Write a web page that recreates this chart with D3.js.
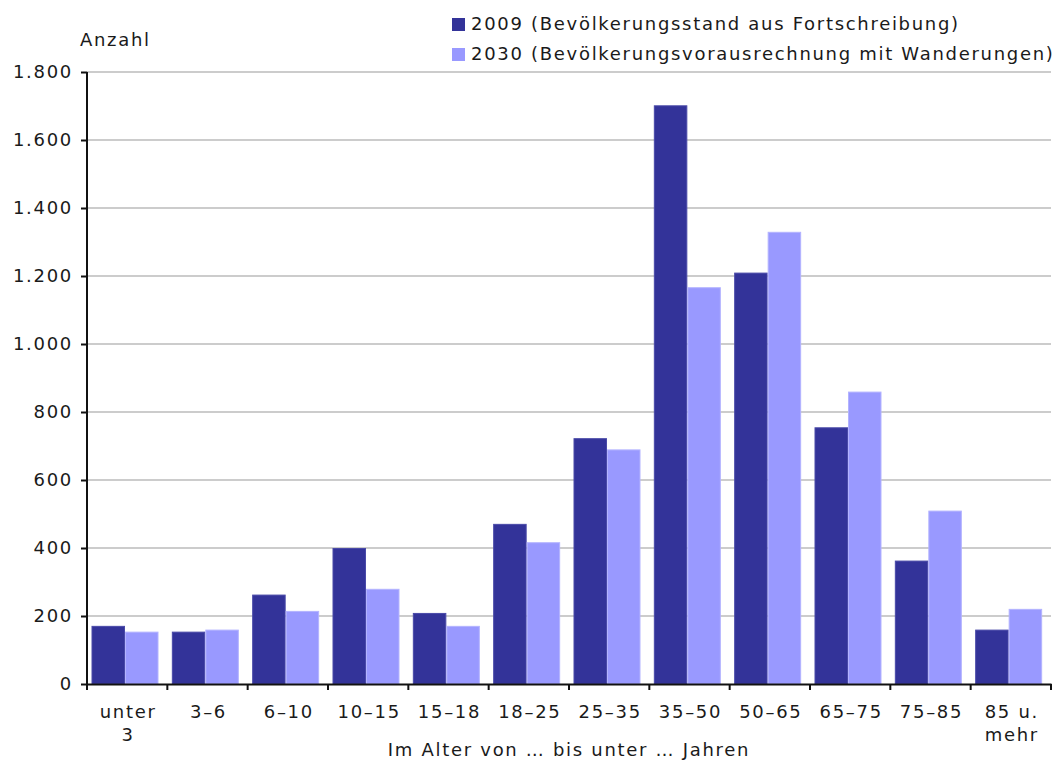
<!DOCTYPE html>
<html>
<head>
<meta charset="utf-8">
<script src="https://cdn.jsdelivr.net/npm/d3@7"></script>
<style>
  body { margin: 0; background: #fff; }
  text { font-family: "DejaVu Sans", Verdana, sans-serif; fill: #1a1a1a; font-size: 18px; letter-spacing: 1.7px; }
</style>
</head>
<body>
<div id="chart"></div>
<script>
const svgWidth = 1062;
const svgHeight = 760;

const margin = { top: 72, right: 11, bottom: 76, left: 87 };
const width = svgWidth - margin.left - margin.right;
const height = svgHeight - margin.top - margin.bottom;

// data
const ageGroups = ["unter 3", "3–6", "6–10", "10–15", "15–18", "18–25", "25–35", "35–50", "50–65", "65–75", "75–85", "85 u. mehr"];
const ageLabels = [["unter", "3"], ["3–6"], ["6–10"], ["10–15"], ["15–18"], ["18–25"], ["25–35"], ["35–50"], ["50–65"], ["65–75"], ["75–85"], ["85 u.", "mehr"]];
const values2009 = [171, 154, 263, 400, 209, 471, 723, 1702, 1210, 755, 363, 160];
const values2030 = [154, 160, 215, 280, 171, 417, 690, 1167, 1330, 860, 510, 221];
const seriesNames = ["2009 (Bevölkerungsstand aus Fortschreibung)", "2030 (Bevölkerungsvorausrechnung mit Wanderungen)"];
const yTicks = [0, 200, 400, 600, 800, 1000, 1200, 1400, 1600, 1800];

const colors = ["#333399", "#9999ff"];
const strokes = ["#4a4aa8", "#b3b3ff"];

const de = d3.formatLocale({ decimal: ",", thousands: ".", grouping: [3], currency: ["", " €"] });
const fmt = de.format(",d");

const svg = d3.select("#chart")
  .append("svg")
  .attr("width", svgWidth)
  .attr("height", svgHeight);

const chartGroup = svg.append("g")
  .attr("transform", `translate(${margin.left}, ${margin.top})`);

// scales
const x0 = d3.scaleBand()
  .domain(ageGroups)
  .range([0, width]);

const x1 = d3.scaleBand()
  .domain([0, 1])
  .range([4.5, 71.5]);

const y = d3.scaleLinear()
  .domain([0, 1800])
  .range([height, 0]);

// gridlines
chartGroup.append("g")
  .selectAll("line")
  .data(yTicks.filter(d => d > 0))
  .join("line")
  .attr("x1", 0)
  .attr("x2", width)
  .attr("y1", d => y(d))
  .attr("y2", d => y(d))
  .attr("stroke", "#cccccc")
  .attr("stroke-width", 2);

// bars
const rows = ageGroups.map((g, i) => ({ group: g, vals: [values2009[i], values2030[i]] }));

const groups = chartGroup.selectAll("g.grp")
  .data(rows)
  .join("g")
  .attr("class", "grp")
  .attr("transform", d => `translate(${x0(d.group)}, 0)`);

groups.selectAll("rect")
  .data(d => d.vals.map((v, k) => ({ v, k })))
  .join("rect")
  .attr("x", d => x1(d.k) + 0.5)
  .attr("width", x1.bandwidth() - 1)
  .attr("y", d => y(d.v) + 0.5)
  .attr("height", d => y(0) - y(d.v) - 0.5)
  .attr("fill", d => colors[d.k])
  .attr("stroke", d => strokes[d.k])
  .attr("stroke-width", 1);

// y axis
const leftAxis = d3.axisLeft(y)
  .tickValues(yTicks)
  .tickFormat(fmt)
  .tickSize(6)
  .tickPadding(8);

const yAxisG = chartGroup.append("g").call(leftAxis);
yAxisG.attr("font-size", null).attr("font-family", null);
yAxisG.select(".domain").attr("d", `M0,${height}V0`).attr("stroke", "#111").attr("stroke-width", 2);
yAxisG.selectAll(".tick line").attr("stroke", "#111").attr("stroke-width", 2);
yAxisG.selectAll(".tick text").attr("fill", "#1a1a1a");

// x axis
const bottomAxis = d3.axisBottom(x0)
  .tickValues([])
  .tickSizeOuter(0);

const xAxisG = chartGroup.append("g")
  .attr("transform", `translate(0, ${height})`)
  .call(bottomAxis);
xAxisG.attr("font-size", null).attr("font-family", null);
xAxisG.select(".domain").attr("stroke", "#111").attr("stroke-width", 2);

// tick marks at band boundaries
const bounds = ageGroups.map(g => x0(g)).concat([width]);
xAxisG.selectAll("line.bt")
  .data(bounds)
  .join("line")
  .attr("class", "bt")
  .attr("x1", d => d)
  .attr("x2", d => d)
  .attr("y1", 0)
  .attr("y2", 6)
  .attr("stroke", "#111")
  .attr("stroke-width", 2);

// category labels
const labelG = xAxisG.selectAll("text.cat")
  .data(ageGroups)
  .join("text")
  .attr("class", "cat")
  .attr("x", d => x0(d) + x0.bandwidth() / 2 + 1)
  .attr("y", 34)
  .attr("text-anchor", "middle");

labelG.selectAll("tspan")
  .data((d, i) => ageLabels[i])
  .join("tspan")
  .attr("x", function() { return d3.select(this.parentNode).attr("x"); })
  .attr("dy", (d, i) => i === 0 ? 0 : 23)
  .text(d => d);

// axis titles
chartGroup.append("text")
  .attr("x", -7)
  .attr("y", -26)
  .text("Anzahl");

chartGroup.append("text")
  .attr("x", 482)
  .attr("y", height + 72)
  .attr("text-anchor", "middle")
  .text("Im Alter von … bis unter … Jahren");

// legend
const legend = svg.append("g")
  .attr("transform", "translate(452, 18)");

const items = legend.selectAll("g")
  .data(seriesNames)
  .join("g")
  .attr("transform", (d, i) => `translate(0, ${i * 30})`);

items.append("rect")
  .attr("width", 13)
  .attr("height", 13)
  .attr("fill", (d, i) => colors[i]);

items.append("text")
  .attr("x", 19)
  .attr("y", 12)
  .text(d => d);
</script>
</body>
</html>
